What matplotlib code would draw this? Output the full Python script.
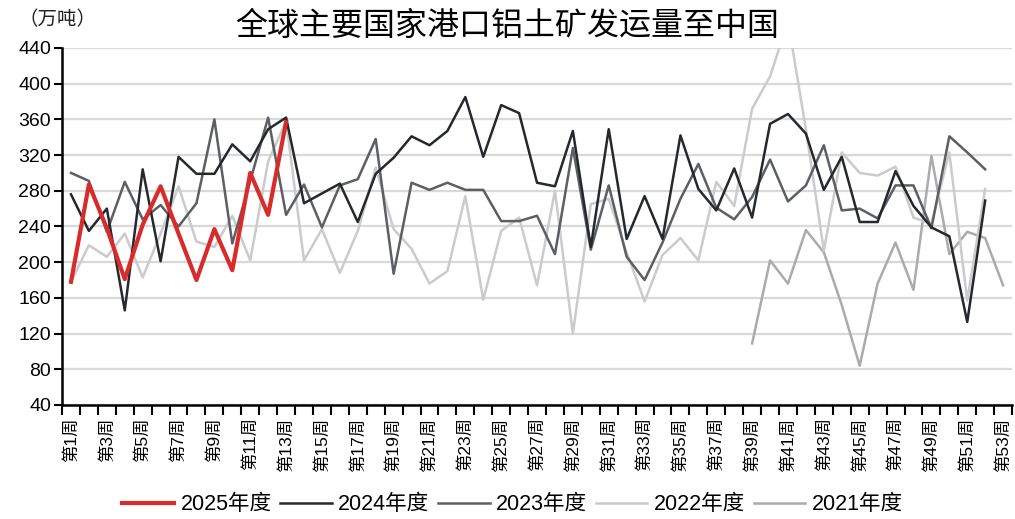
import matplotlib
matplotlib.use("Agg")
import matplotlib.pyplot as plt

plt.rcParams['font.family'] = ['Liberation Sans', 'Noto Sans CJK SC']

weeks = list(range(1, 54))
xtick_weeks = list(range(1, 54, 2))
xtick_labels = [f"第{w}周" for w in xtick_weeks]
yticks = list(range(40, 441, 40))

y2025 = [178, 287, 238, 181, 242, 285, 232, 180, 237, 191, 300, 253, 357]
y2024 = [276, 235, 260, 146, 304, 201, 318, 299, 299, 332, 313, 349, 362, 266, 277, 288,
         245, 299, 317, 341, 331, 347, 385, 318, 376, 367, 289, 285, 347, 217, 349, 226,
         274, 226, 342, 282, 258, 305, 250, 355, 366, 344, 281, 318, 245, 245, 302, 263,
         239, 229, 133, 269]
y2023 = [300, 291, 234, 290, 248, 264, 240, 266, 360, 221, 291, 362, 253, 287, 239, 286,
         293, 338, 187, 289, 281, 289, 281, 281, 246, 246, 252, 209, 328, 214, 286, 206,
         180, 222, 271, 310, 261, 248, 273, 315, 268, 286, 331, 258, 260, 249, 286, 286,
         238, 341, 323, 304]
y2022 = [178, 219, 206, 232, 183, 232, 285, 223, 217, 252, 202, 313, 358, 202, 237, 188,
         235, 306, 237, 215, 176, 190, 274, 158, 235, 250, 174, 280, 120, 265, 271, 211,
         156, 208, 227, 202, 290, 263, 372, 408, 470, 349, 213, 323, 300, 297, 307, 250,
         243, 323, 157, 282]
y2021_start_week = 39
y2021 = [109, 202, 176, 236, 211, 152, 84, 176, 222, 169, 319, 209, 234, 227, 174]

series = [
    ("2025年度", weeks[:len(y2025)], y2025, "#d92b2b", 3.0, 5),
    ("2024年度", weeks[:len(y2024)], y2024, "#25282c", 1.8, 4),
    ("2023年度", weeks[:len(y2023)], y2023, "#5c5f63", 1.8, 3),
    ("2022年度", weeks[:len(y2022)], y2022, "#cbcbcb", 1.8, 2),
    ("2021年度", weeks[y2021_start_week - 1:y2021_start_week - 1 + len(y2021)], y2021, "#ababab", 1.8, 1),
]

fig = plt.figure(figsize=(10.15, 5.19), dpi=100)
ax = fig.add_axes([0.0611, 0.2197, 0.936, 0.6879])

for label, xs, ys, color, lw, z in series:
    ax.plot(xs, ys, color=color, lw=lw, label=label, zorder=z)

ax.set_xlim(0.5, 53.5)
ax.set_ylim(40, 440)
ax.set_yticks(yticks)
ax.tick_params(axis='y', labelsize=14, length=6, width=1.5, direction='out', pad=2)
ax.yaxis.grid(True, color='#d9d9d9', lw=1.6, zorder=0)
ax.set_axisbelow(True)

ax.set_xticks(xtick_weeks)
ax.set_xticklabels(xtick_labels, rotation=90, fontsize=12.5, va='top', ha='center')
ax.set_xticks([w - 0.5 for w in weeks] + [53.5], minor=True)
ax.tick_params(axis='x', which='major', length=0, pad=9)
ax.tick_params(axis='x', which='minor', length=7, width=1.5, direction='out')

for s in ['top', 'right']:
    ax.spines[s].set_visible(False)
for s in ['left', 'bottom']:
    ax.spines[s].set_linewidth(1.8)
    ax.spines[s].set_color('black')

fig.text(0.5, 0.948, "全球主要国家港口铝土矿发运量至中国", ha='center', va='center', fontsize=23)
fig.text(0.018, 0.962, "（万吨）", ha='left', va='center', fontsize=14, color='#222222')

fig.legend(loc='center', bbox_to_anchor=(0.505, 0.027), ncol=5, frameon=False,
           fontsize=15.5, handlelength=2.4, handletextpad=0.3, columnspacing=0.4)

fig.savefig("out.png", dpi=100)
